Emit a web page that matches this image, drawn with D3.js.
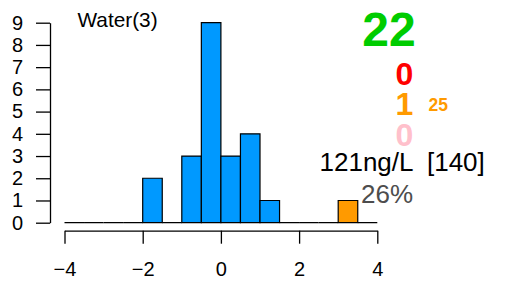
<!DOCTYPE html>
<html>
<head>
<meta charset="utf-8">
<script src="https://cdn.jsdelivr.net/npm/d3@7"></script>
<style>
  body { margin: 0; background: #fff; }
  text { font-family: "Liberation Sans", Arial, sans-serif; }
</style>
</head>
<body>
<div id="chart"></div>
<script>
// bins of width 0.5 from -4 to 4
var binStarts = [-4, -3.5, -3, -2.5, -2, -1.5, -1, -0.5, 0, 0.5, 1, 1.5, 2, 2.5, 3, 3.5];
var blueCounts = [0, 0, 0, 0, 2, 0, 3, 9, 3, 4, 1, 0, 0, 0, 0, 0];
var orangeCounts = [0, 0, 0, 0, 0, 0, 0, 0, 0, 0, 0, 0, 0, 0, 1, 0];
var binWidth = 0.5;
var xTicks = [-4, -2, 0, 2, 4];
var yTicks = [0, 1, 2, 3, 4, 5, 6, 7, 8, 9];

var title = "Water(3)";
var statTotal = "22";
var statRed = "0";
var statOrange = "1";
var statOrangeSmall = "25";
var statPink = "0";
var concText = "121ng/L  [140]";
var pctText = "26%";

var width = 520, height = 289;

var svg = d3.select("#chart")
    .append("svg")
    .attr("width", width)
    .attr("height", height);

var x = d3.scaleLinear().domain([-4, 4]).range([64.5, 377.3]);
var y = d3.scaleLinear().domain([0, 9]).range([222.7, 22.7]);

// bars (drawn as paths so empty bins still show their outline)
function barPath(d) {
    var x0 = x(d.start), x1 = x(d.start + binWidth);
    return "M" + x0 + "," + y(0) + "V" + y(d.count) + "H" + x1 + "V" + y(0) + "Z";
}

var bins = binStarts.map(function (s, i) {
    var o = orangeCounts[i] > 0;
    return {start: s, count: o ? orangeCounts[i] : blueCounts[i], orange: o};
});

svg.append("g")
    .selectAll("path")
    .data(bins)
    .enter()
    .append("path")
    .attr("d", barPath)
    .attr("fill", function (d) { return d.orange ? "#ff9a00" : "#0099ff"; })
    .attr("stroke", "#000")
    .attr("stroke-width", 1.2);

// y axis
var yAxis = svg.append("g")
    .attr("transform", "translate(" + 50 + ",0)")
    .call(d3.axisLeft(y).tickValues(yTicks).tickSize(14).tickSizeOuter(0).tickPadding(13));

// x axis
var xAxis = svg.append("g")
    .attr("transform", "translate(0," + 230.7 + ")")
    .call(d3.axisBottom(x).tickValues(xTicks).tickSize(13).tickSizeOuter(0).tickPadding(18)
        .tickFormat(function (d) { return d < 0 ? "\u2212" + Math.abs(d) : d; }));

[yAxis, xAxis].forEach(function (a) {
    a.select(".domain").attr("stroke", "#000").attr("stroke-width", 1.3);
    a.selectAll(".tick line").attr("stroke", "#000").attr("stroke-width", 1.3);
    a.selectAll(".tick text")
        .attr("fill", "#000")
        .style("font-family", "'Liberation Sans', Arial, sans-serif")
        .style("font-size", "20px");
});

// title
svg.append("text")
    .attr("x", 77.5)
    .attr("y", 27)
    .style("font-size", "20.8px")
    .attr("fill", "#000")
    .text(title);

// stats on the right
svg.append("text")
    .attr("x", 389).attr("y", 46)
    .attr("text-anchor", "middle")
    .style("font-size", "48px").style("font-weight", "bold")
    .attr("fill", "#00cc00")
    .text(statTotal);

svg.append("text")
    .attr("x", 404.5).attr("y", 85)
    .attr("text-anchor", "middle")
    .style("font-size", "32px").style("font-weight", "bold")
    .attr("fill", "#ff0000")
    .text(statRed);

svg.append("text")
    .attr("x", 404.5).attr("y", 115)
    .attr("text-anchor", "middle")
    .style("font-size", "32px").style("font-weight", "bold")
    .attr("fill", "#ff9a00")
    .text(statOrange);

svg.append("text")
    .attr("x", 428.5).attr("y", 110.5)
    .style("font-size", "17.5px").style("font-weight", "bold")
    .attr("fill", "#ff9a00")
    .text(statOrangeSmall);

svg.append("text")
    .attr("x", 404.5).attr("y", 146)
    .attr("text-anchor", "middle")
    .style("font-size", "32px").style("font-weight", "bold")
    .attr("fill", "#ffc0cb")
    .text(statPink);

svg.append("text")
    .attr("x", 319.5).attr("y", 170.7)
    .style("font-size", "26px")
    .style("white-space", "pre")
    .attr("fill", "#000")
    .text(concText);

svg.append("text")
    .attr("x", 361).attr("y", 202.5)
    .style("font-size", "26px")
    .attr("fill", "#4d4d4d")
    .text(pctText);
</script>
</body>
</html>
